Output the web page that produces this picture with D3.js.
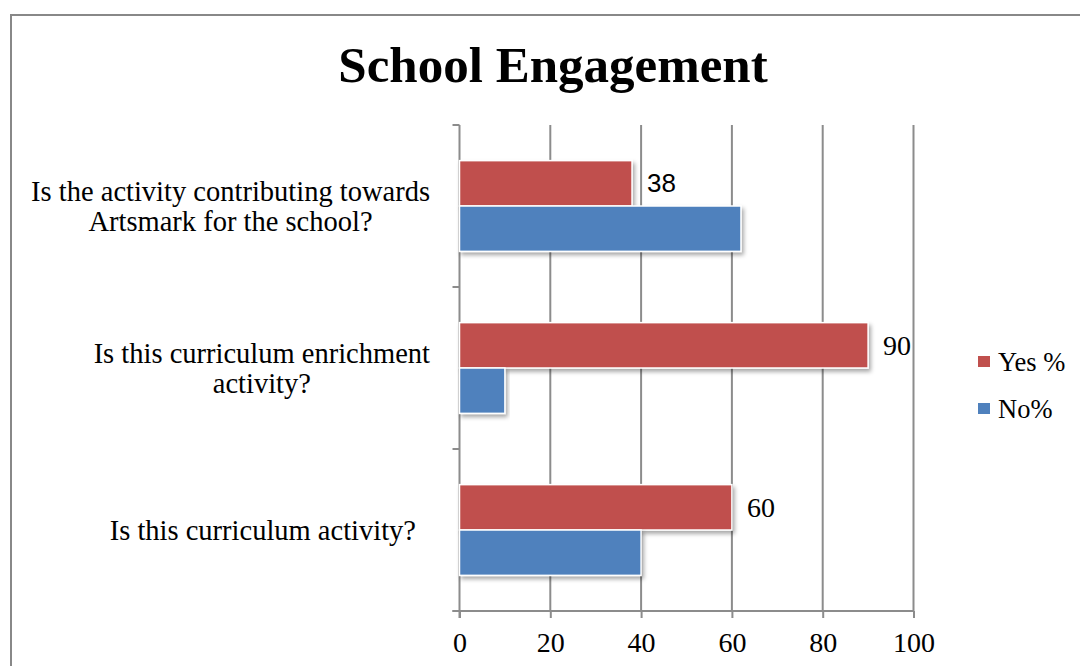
<!DOCTYPE html>
<html>
<head>
<meta charset="utf-8">
<script src="https://cdn.jsdelivr.net/npm/d3@7"></script>
<style>
  html, body { margin: 0; padding: 0; background: #fff; }
  svg { display: block; }
</style>
</head>
<body>
<svg id="chart" width="1080" height="666"></svg>
<script>
// Survey questions, listed top to bottom
const categories = [
  ["Is the activity contributing towards", "Artsmark for the school?"],
  ["Is this curriculum enrichment", "activity?"],
  ["Is this curriculum activity?"]
];
const seriesNames = ["Yes %", "No%"];
const yesValues = [38, 90, 60];
const noValues = [62, 10, 40];
const xTicks = [0, 20, 40, 60, 80, 100];
const colors = ["#C0504D", "#4F81BD"];

const svg = d3.select("#chart");
const serif = "'Liberation Serif', 'Times New Roman', serif";
const gridColor = "#8c8c8c";

// Chart frame
svg.append("rect")
  .attr("x", 11).attr("y", 15)
  .attr("width", 1090).attr("height", 680)
  .attr("fill", "#fff")
  .attr("stroke", "#888").attr("stroke-width", 2);

// Soft shadow under the bars
const defs = svg.append("defs");
const f = defs.append("filter").attr("id", "shadow")
  .attr("x", "-5%").attr("y", "-20%").attr("width", "115%").attr("height", "160%");
f.append("feDropShadow")
  .attr("dx", 2).attr("dy", 3).attr("stdDeviation", 2.2)
  .attr("flood-color", "#000").attr("flood-opacity", 0.35);

// Title
svg.append("text")
  .attr("x", 553).attr("y", 82)
  .attr("text-anchor", "middle")
  .attr("font-family", serif).attr("font-weight", "bold")
  .attr("font-size", 51)
  .text("School Engagement");

const plot = { left: 459.5, right: 913.5, top: 125, bottom: 611 };

const x = d3.scaleLinear().domain([0, 100]).range([plot.left, plot.right]);
const y = d3.scaleBand()
  .domain(d3.range(categories.length))
  .range([plot.top, plot.bottom])
  .paddingInner(0.44).paddingOuter(0.22);
const ySub = d3.scaleBand().domain([0, 1]).range([0, y.bandwidth()]);

// Vertical gridlines
svg.append("g").selectAll("line")
  .data(xTicks.filter(d => d > 0))
  .join("line")
  .attr("x1", d => x(d)).attr("x2", d => x(d))
  .attr("y1", plot.top).attr("y2", plot.bottom)
  .attr("stroke", gridColor).attr("stroke-width", 2);

// Bottom value axis
const xAxis = svg.append("g")
  .attr("transform", `translate(0,${plot.bottom})`)
  .call(d3.axisBottom(x).tickValues(xTicks).tickSizeInner(7).tickSizeOuter(0).tickPadding(14));
xAxis.select(".domain").remove();
xAxis.append("line")
  .attr("x1", plot.left - 7).attr("x2", plot.right)
  .attr("stroke", gridColor).attr("stroke-width", 2);
xAxis.selectAll(".tick line").attr("stroke", gridColor).attr("stroke-width", 2);
xAxis.selectAll(".tick text")
  .attr("font-family", serif).attr("font-size", 28).attr("fill", "#000");

// Left category axis: line plus boundary ticks between categories
const yAxis = svg.append("g");
yAxis.append("line")
  .attr("x1", plot.left).attr("x2", plot.left)
  .attr("y1", plot.top).attr("y2", plot.bottom + 7)
  .attr("stroke", gridColor).attr("stroke-width", 2);
const bounds = d3.range(categories.length + 1).map(i => plot.top + i * y.step());
yAxis.selectAll("line.bt")
  .data(bounds)
  .join("line").attr("class", "bt")
  .attr("x1", plot.left - 7).attr("x2", plot.left)
  .attr("y1", d => d).attr("y2", d => d)
  .attr("stroke", gridColor).attr("stroke-width", 2);

// Category labels: lines centred, block right-aligned against the axis
const labelRight = 430;
const lineH = 30;
categories.forEach((lines, i) => {
  const g = svg.append("g");
  const cy = y(i) + y.bandwidth() / 2;
  const t = g.selectAll("text").data(lines).join("text")
    .attr("font-family", serif).attr("font-size", 28.5)
    .attr("text-anchor", "middle")
    .attr("dominant-baseline", "central")
    .attr("y", (d, k) => cy + (k - (lines.length - 1) / 2) * lineH)
    .text(d => d);
  const w = d3.max(t.nodes(), n => n.getComputedTextLength());
  const right = lines.length > 1 ? labelRight : labelRight - 14;
  t.attr("x", right - w / 2);
});

// Bars
const seriesData = [yesValues, noValues];
const barG = svg.append("g");
seriesData.forEach((vals, s) => {
  barG.selectAll(null)
    .data(vals)
    .join("rect")
    .attr("x", x(0))
    .attr("y", (d, i) => y(i) + ySub(s))
    .attr("width", d => x(d) - x(0))
    .attr("height", ySub.bandwidth())
    .attr("fill", colors[s])
    .attr("stroke", "#fff").attr("stroke-width", 1.5)
    .attr("filter", "url(#shadow)");
});

// Value labels on the Yes bars
svg.append("g").selectAll("text")
  .data(yesValues)
  .join("text")
  .attr("x", d => x(d) + 15)
  .attr("y", (d, i) => y(i) + ySub(0) + ySub.bandwidth() / 2)
  .attr("dominant-baseline", "central")
  .attr("font-family", (d, i) => i === 0 ? "'Liberation Sans', Arial, sans-serif" : serif)
  .attr("font-size", (d, i) => i === 0 ? 26 : 28)
  .text(d => d);

// Legend
const legend = svg.append("g");
seriesNames.forEach((name, s) => {
  const ly = 362 + s * 47;
  legend.append("rect")
    .attr("x", 978).attr("y", ly - 6)
    .attr("width", 12).attr("height", 11)
    .attr("fill", colors[s]);
  legend.append("text")
    .attr("x", 998).attr("y", ly)
    .attr("dominant-baseline", "central")
    .attr("font-family", serif).attr("font-size", 26.5)
    .text(name);
});
</script>
</body>
</html>
